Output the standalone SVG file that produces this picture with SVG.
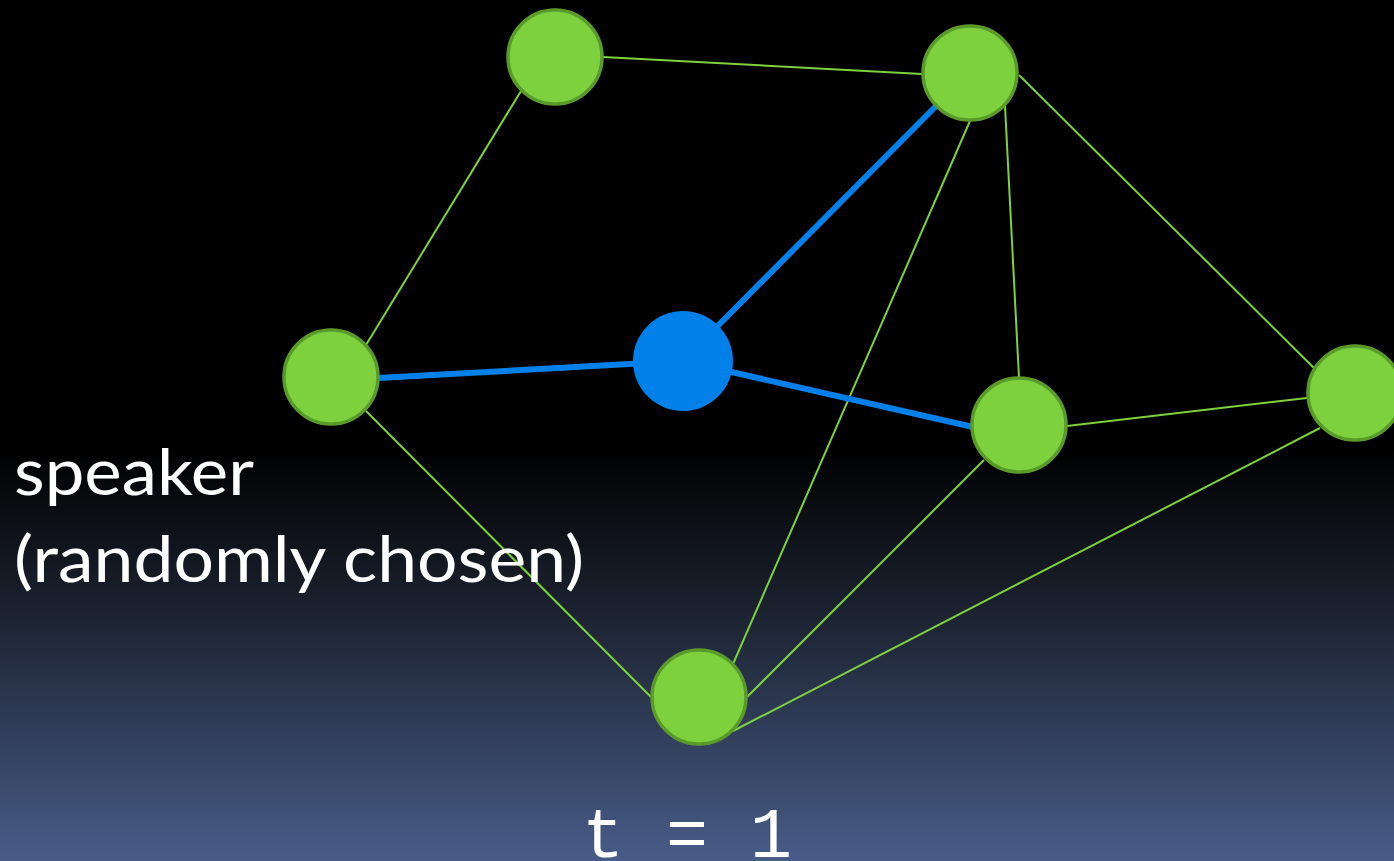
<svg xmlns="http://www.w3.org/2000/svg" width="1394" height="861" viewBox="0 0 1394 861">
<defs>
<linearGradient id="bg" x1="0" y1="0" x2="0" y2="1">
<stop offset="0" stop-color="#000"/>
<stop offset="0.52" stop-color="#000"/>
<stop offset="0.7" stop-color="#1a202d"/>
<stop offset="1" stop-color="#485c88"/>
</linearGradient>
<style>
.g{stroke:#7dd13d;stroke-width:2;fill:none}
.b{stroke:#0080e8;stroke-width:6;fill:none}
.n{fill:#7dd13d;stroke:#5a9a2a;stroke-width:3.5}
.s{fill:#0080e8}
.lbl{fill:#fff;font-family:Lato,"Open Sans","Liberation Sans",sans-serif;font-size:64px}
.t{fill:#fff;font-family:"Liberation Mono",monospace;font-size:70px}
</style>
</defs>
<rect width="1394" height="861" fill="url(#bg)"/>
<g id="connectors">
<line class="g" x1="603" y1="57" x2="922" y2="74"/>
<line class="g" x1="521" y1="91" x2="366" y2="345"/>
<line class="g" x1="1019" y1="75" x2="1315" y2="369"/>
<line class="g" x1="1005" y1="106" x2="1019" y2="378"/>
<line class="g" x1="970" y1="121" x2="733" y2="664"/>
<line class="g" x1="366" y1="411" x2="651" y2="697"/>
<line class="g" x1="984" y1="460" x2="747" y2="697"/>
<line class="g" x1="1320" y1="428" x2="733" y2="731"/>
<line class="g" x1="1067" y1="426" x2="1307" y2="398"/>
<line class="b" x1="378" y1="378" x2="683" y2="361"/>
<line class="b" x1="683" y1="361" x2="938" y2="104"/>
<line class="b" x1="683" y1="361" x2="973" y2="427"/>
</g>
<g id="nodeA"><circle class="n" cx="555" cy="57" r="47"/></g>
<g id="nodeB"><circle class="n" cx="970" cy="73" r="47"/></g>
<g id="nodeC"><circle class="n" cx="331" cy="377" r="47"/></g>
<g id="speaker"><circle class="s" cx="683" cy="361" r="50"/></g>
<g id="nodeE"><circle class="n" cx="1019" cy="425" r="47"/></g>
<g id="nodeF"><circle class="n" cx="1355" cy="393" r="47"/></g>
<g id="nodeG"><circle class="n" cx="699" cy="697" r="47"/></g>
<g id="label">
<text class="lbl" x="14" y="495" textLength="240" lengthAdjust="spacingAndGlyphs">speaker</text>
<text class="lbl" x="14" y="582" textLength="570" lengthAdjust="spacingAndGlyphs">(randomly chosen)</text>
</g>
<text class="t" x="582" y="857">t = 1</text>
</svg>
